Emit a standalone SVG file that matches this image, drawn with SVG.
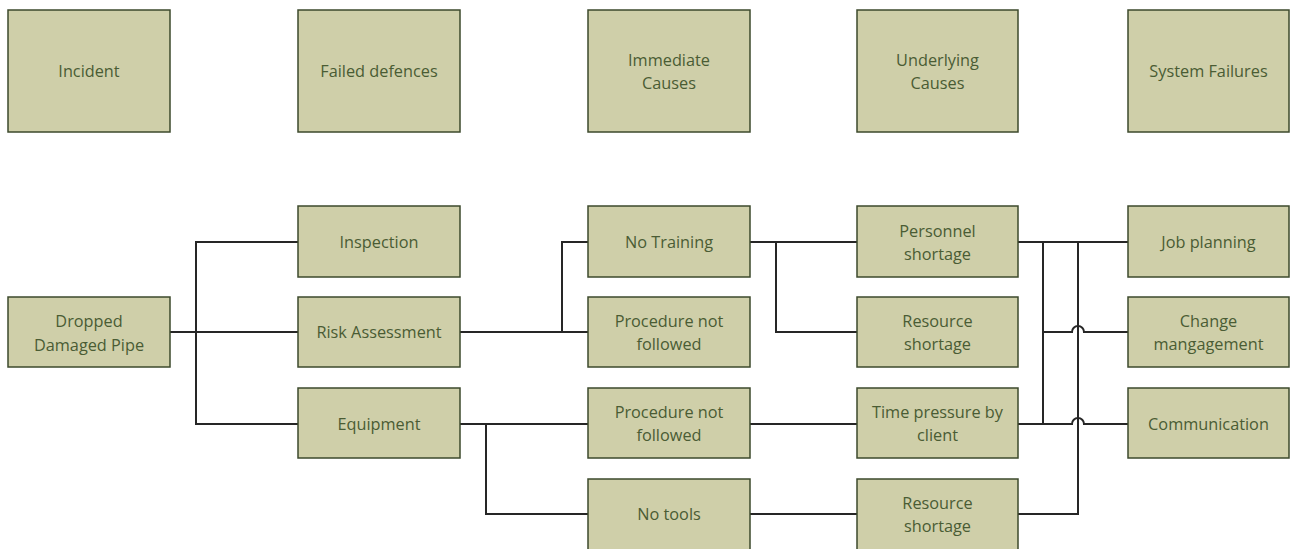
<svg xmlns="http://www.w3.org/2000/svg" width="1296" height="549" viewBox="0 0 1296 549">
  <style>
    .box { fill: #cfcfa9; stroke: #3d4a2c; stroke-width: 1.5; }
    .lbl { font-family: "Open Sans", "Liberation Sans", sans-serif; font-size: 16.3px; fill: #4a5c34; text-anchor: middle; }
    .wire { fill: none; stroke: #262626; stroke-width: 2; }
  </style>
  <rect width="1296" height="549" fill="#ffffff"/>

  <!-- column headers -->
  <g id="hdr-incident"><rect class="box" x="8" y="10" width="162" height="122"/><text class="lbl" x="89" y="76.5">Incident</text></g>
  <g id="hdr-failed-defences"><rect class="box" x="298" y="10" width="162" height="122"/><text class="lbl" x="379" y="76.5">Failed defences</text></g>
  <g id="hdr-immediate"><rect class="box" x="588" y="10" width="162" height="122"/><text class="lbl" x="669" y="65.5">Immediate</text><text class="lbl" x="669" y="88.5">Causes</text></g>
  <g id="hdr-underlying"><rect class="box" x="857" y="10" width="161" height="122"/><text class="lbl" x="937.5" y="65.5">Underlying</text><text class="lbl" x="937.5" y="88.5">Causes</text></g>
  <g id="hdr-system"><rect class="box" x="1128" y="10" width="161" height="122"/><text class="lbl" x="1208.5" y="76.5">System Failures</text></g>

  <!-- connectors -->
  <g id="connectors" class="wire">
    <path d="M170,332 H298"/>
    <path d="M298,242 H196 V424 H298"/>
    <path d="M460,332 H588"/>
    <path d="M562,332 V242 H588"/>
    <path d="M460,424 H588"/>
    <path d="M486,424 V514 H588"/>
    <path d="M750,242 H857"/>
    <path d="M776,242 V332 H857"/>
    <path d="M750,424 H857"/>
    <path d="M750,514 H857"/>
    <path d="M1018,242 H1128"/>
    <path d="M1043,242 V424"/>
    <path d="M1078,242 V514 H1018"/>
    <path d="M1043,332 H1072 A6,6 0 0 1 1084,332 H1128"/>
    <path d="M1018,424 H1072 A6,6 0 0 1 1084,424 H1128"/>
  </g>

  <!-- incident -->
  <g id="dropped-pipe"><rect class="box" x="8" y="297" width="162" height="70"/><text class="lbl" x="89" y="327">Dropped</text><text class="lbl" x="89" y="351">Damaged Pipe</text></g>

  <!-- failed defences -->
  <g id="inspection"><rect class="box" x="298" y="206" width="162" height="71"/><text class="lbl" x="379" y="247.5">Inspection</text></g>
  <g id="risk-assessment"><rect class="box" x="298" y="297" width="162" height="70"/><text class="lbl" x="379" y="338">Risk Assessment</text></g>
  <g id="equipment"><rect class="box" x="298" y="388" width="162" height="70"/><text class="lbl" x="379" y="429.5">Equipment</text></g>

  <!-- immediate causes -->
  <g id="no-training"><rect class="box" x="588" y="206" width="162" height="71"/><text class="lbl" x="669" y="247.5">No Training</text></g>
  <g id="procedure-1"><rect class="box" x="588" y="297" width="162" height="70"/><text class="lbl" x="669" y="327">Procedure not</text><text class="lbl" x="669" y="350">followed</text></g>
  <g id="procedure-2"><rect class="box" x="588" y="388" width="162" height="70"/><text class="lbl" x="669" y="418">Procedure not</text><text class="lbl" x="669" y="441">followed</text></g>
  <g id="no-tools"><rect class="box" x="588" y="479" width="162" height="72"/><text class="lbl" x="669" y="520">No tools</text></g>

  <!-- underlying causes -->
  <g id="personnel-shortage"><rect class="box" x="857" y="206" width="161" height="71"/><text class="lbl" x="937.5" y="236.5">Personnel</text><text class="lbl" x="937.5" y="259.5">shortage</text></g>
  <g id="resource-shortage-1"><rect class="box" x="857" y="297" width="161" height="70"/><text class="lbl" x="937.5" y="327">Resource</text><text class="lbl" x="937.5" y="350">shortage</text></g>
  <g id="time-pressure"><rect class="box" x="857" y="388" width="161" height="70"/><text class="lbl" x="937.5" y="418">Time pressure by</text><text class="lbl" x="937.5" y="441">client</text></g>
  <g id="resource-shortage-2"><rect class="box" x="857" y="479" width="161" height="72"/><text class="lbl" x="937.5" y="509">Resource</text><text class="lbl" x="937.5" y="532">shortage</text></g>

  <!-- system failures -->
  <g id="job-planning"><rect class="box" x="1128" y="206" width="161" height="71"/><text class="lbl" x="1208.5" y="247.5">Job planning</text></g>
  <g id="change-management"><rect class="box" x="1128" y="297" width="161" height="70"/><text class="lbl" x="1208.5" y="327">Change</text><text class="lbl" x="1208.5" y="350">mangagement</text></g>
  <g id="communication"><rect class="box" x="1128" y="388" width="161" height="70"/><text class="lbl" x="1208.5" y="429.5">Communication</text></g>
</svg>
